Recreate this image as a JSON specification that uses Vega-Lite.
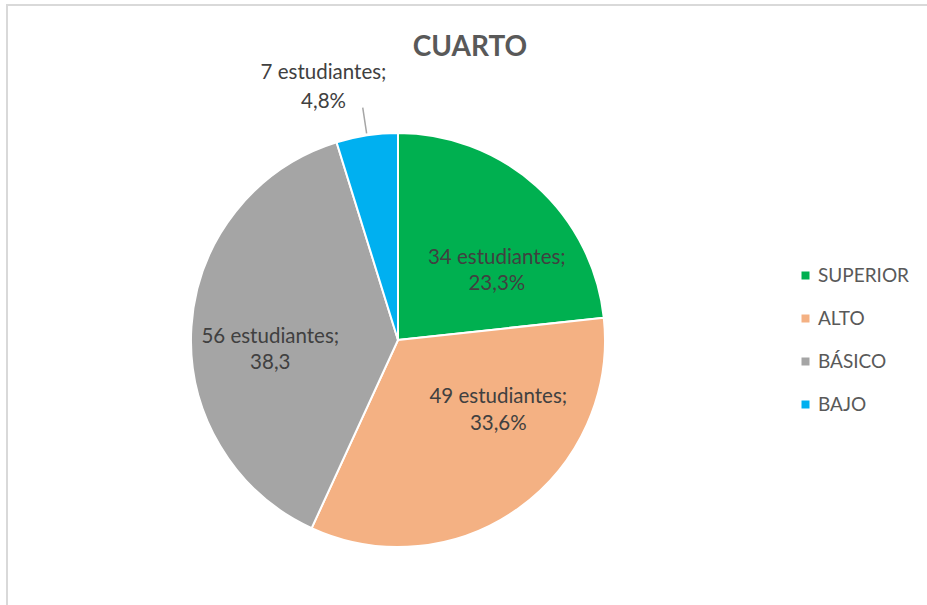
{
  "$schema": "https://vega.github.io/schema/vega-lite/v6.json",
  "width": 920,
  "height": 600,
  "autosize": "none",
  "padding": {"left": 7, "top": 5, "right": 0, "bottom": 0},
  "background": "white",
  "config": {"view": {"stroke": null}, "font": "Lato"},
  "title": {"text": "CUARTO", "fontSize": 28, "font": "Lato", "fontWeight": "bold", "color": "#595959", "anchor": "middle", "offset": -58, "dx": 3, "frame": "group"},
  "data": {"values": [
    {"nivel": "SUPERIOR", "estudiantes": 34, "orden": 1, "etiqueta": "34 estudiantes;\n23,3%"},
    {"nivel": "ALTO", "estudiantes": 49, "orden": 2, "etiqueta": "49  estudiantes;\n33,6%"},
    {"nivel": "BÁSICO", "estudiantes": 56, "orden": 3, "etiqueta": "56 estudiantes;\n38,3"},
    {"nivel": "BAJO", "estudiantes": 7, "orden": 4, "etiqueta": "7 estudiantes;\n4,8%"}
  ]},
  "layer": [
    {
      "data": {"values": [{"marco": 1}]},
      "mark": {"type": "rect", "fill": null, "stroke": "#D9D9D9", "strokeWidth": 2, "x2Offset": 6, "y2Offset": 6},
      "encoding": {"x": {"value": 0}, "x2": {"value": "width"}, "y": {"value": 0}, "y2": {"value": "height"}}
    },
    {
      "encoding": {
        "theta": {"field": "estudiantes", "type": "quantitative", "stack": true},
        "order": {"field": "orden", "type": "quantitative"},
        "detail": {"field": "nivel", "type": "nominal"}
      },
      "layer": [
        {
          "mark": {"type": "arc", "x": 391, "y": 335, "outerRadius": 207, "stroke": "white", "strokeWidth": 2},
          "encoding": {
            "color": {
              "field": "nivel", "type": "nominal",
              "scale": {"domain": ["SUPERIOR", "ALTO", "BÁSICO", "BAJO"], "range": ["#00B050", "#F4B183", "#A5A5A5", "#00B0F0"]},
              "legend": {"title": null, "orient": "none", "direction": "vertical", "legendX": 789, "legendY": 261, "symbolType": "square", "symbolSize": 64, "symbolStrokeWidth": 0, "labelFont": "Lato", "labelFontSize": 19, "labelColor": "#595959", "rowPadding": 23, "labelOffset": 3, "padding": 0}
            }
          }
        },
        {
          "mark": {"type": "arc", "x": 391, "y": 335, "innerRadius": 209, "outerRadius": 235, "padAngle": 0.3, "fill": null, "stroke": "#A6A6A6", "strokeWidth": 1.5},
          "encoding": {"opacity": {"condition": {"test": "datum.nivel === 'BAJO'", "value": 1}, "value": 0}}
        },
        {
          "mark": {"type": "text", "x": 391, "y": 335, "radius": 121, "dx": 18, "dy": 8, "align": "center", "baseline": "middle", "lineBreak": "\n", "lineHeight": 26, "fontSize": 20.5, "font": "Lato", "color": "#404040"},
          "encoding": {"text": {"condition": {"test": "datum.nivel === 'SUPERIOR'", "field": "etiqueta", "type": "nominal"}, "value": ""}}
        },
        {
          "mark": {"type": "text", "x": 391, "y": 335, "radius": 122, "dx": 29, "dy": -42, "align": "center", "baseline": "middle", "lineBreak": "\n", "lineHeight": 27, "fontSize": 20.5, "font": "Lato", "color": "#404040"},
          "encoding": {"text": {"condition": {"test": "datum.nivel === 'ALTO'", "field": "etiqueta", "type": "nominal"}, "value": ""}}
        },
        {
          "mark": {"type": "text", "x": 391, "y": 335, "radius": 128, "dx": 0, "dy": 5, "align": "center", "baseline": "middle", "lineBreak": "\n", "lineHeight": 26, "fontSize": 20.5, "font": "Lato", "color": "#404040"},
          "encoding": {"text": {"condition": {"test": "datum.nivel === 'BÁSICO'", "field": "etiqueta", "type": "nominal"}, "value": ""}}
        },
        {
          "mark": {"type": "text", "x": 391, "y": 335, "radius": 263, "dx": -35, "dy": -7, "align": "center", "baseline": "middle", "lineBreak": "\n", "lineHeight": 29, "fontSize": 20.5, "font": "Lato", "color": "#404040"},
          "encoding": {"text": {"condition": {"test": "datum.nivel === 'BAJO'", "field": "etiqueta", "type": "nominal"}, "value": ""}}
        }
      ]
    }
  ]
}
